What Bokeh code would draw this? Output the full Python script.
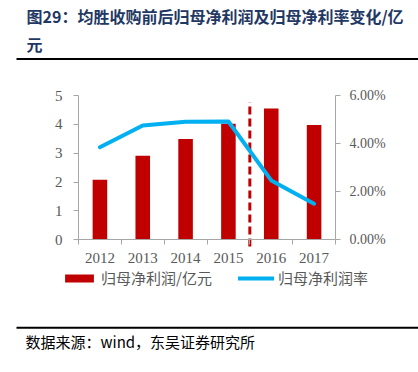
from bokeh.plotting import figure
from bokeh.models import (Range1d, LinearAxis, FixedTicker, NumeralTickFormatter,
                          Label, BoxAnnotation, Legend, LegendItem, ColumnDataSource)
from bokeh.embed import file_html
from bokeh.resources import INLINE

# ---- data ----
years = ["2012", "2013", "2014", "2015", "2016", "2017"]
net_profit = [2.08, 2.91, 3.49, 4.02, 4.55, 3.98]          # 亿元
net_margin = [0.0385, 0.0475, 0.0491, 0.0492, 0.0247, 0.0150]
left_ticks = [0, 1, 2, 3, 4, 5]
right_ticks = [0.0, 0.02, 0.04, 0.06]
title_line1 = "图29：均胜收购前后归母净利润及归母净利率变化/亿"
title_line2 = "元"
source_text = "数据来源：wind，东吴证券研究所"
legend_bar = "归母净利润/亿元"
legend_line = "归母净利润率"

idx = list(range(len(years)))
src = ColumnDataSource(dict(x=idx, profit=net_profit, margin=net_margin))

BAR = "#C00000"
BLUE = "#00B0F0"
AXIS = "#A6A6A6"
TXT = "#595959"
TITLE_C = "#1F3864"
SERIF = "Liberation Serif"
CJK = "Noto Sans CJK SC"

# ---- page layout (pixels) ----
W, H = 418, 372
PL, PR = 78, 335          # plot area left / right
PT, PB = 95, 239.3        # value 5 / value 0
LMAX = 5.0
RMAX = 0.06
n = len(years)
ux = (PR - PL) / n        # px per category
uy = (PB - PT) / LMAX     # px per left unit
x_lo = -0.5 - PL / ux
x_hi = n - 0.5 + (W - PR) / ux
y_hi = LMAX + PT / uy
y_lo = -(H - PB) / uy

p = figure(width=W, height=H, min_border=0,
           x_range=Range1d(x_lo, x_hi), y_range=Range1d(y_lo, y_hi),
           output_backend="svg", toolbar_location=None, tools="", title=None)
p.outline_line_color = None
p.grid.visible = False
p.extra_y_ranges = {"pct": Range1d(y_lo * RMAX / LMAX, y_hi * RMAX / LMAX),
                    "py": Range1d(H, 0)}
p.extra_x_ranges = {"px": Range1d(0, W)}

bars = p.vbar(x="x", top="profit", width=0.34, source=src, fill_color=BAR, line_color=None)

# dashed divider between 2015 and 2016
div_x = (idx[3] + idx[4]) / 2
p.segment(x0=[div_x], y0=[-0.23], x1=[div_x], y1=[4.77],
          line_color=BAR, line_width=3, line_dash="8 4")

ln = p.line(x="x", y="margin", source=src, y_range_name="pct",
            line_color=BLUE, line_width=4, line_join="round", line_cap="round")

# x axis at value 0
xa = p.xaxis[0]
xa.fixed_location = 0
xa.bounds = (-0.5, n - 0.5)
xa.ticker = FixedTicker(ticks=idx, minor_ticks=[i - 0.5 for i in idx] + [n - 0.5])
xa.major_label_overrides = {i: y for i, y in zip(idx, years)}
xa.axis_line_color = AXIS
xa.major_tick_line_color = None
xa.minor_tick_line_color = AXIS
xa.minor_tick_in = 0
xa.minor_tick_out = 5
xa.major_tick_out = 0
xa.major_tick_in = 0
xa.major_label_standoff = 8
xa.major_label_text_font = SERIF
xa.major_label_text_font_size = "15px"
xa.major_label_text_color = TXT

ya = p.yaxis[0]
ya.fixed_location = -0.5
ya.ticker = FixedTicker(ticks=left_ticks)
ya.bounds = (0, LMAX)
ya.axis_line_color = AXIS
ya.major_tick_line_color = AXIS
ya.minor_tick_line_color = None
ya.major_tick_in = 0
ya.major_tick_out = 5
ya.major_label_standoff = 11
ya.major_label_text_font = SERIF
ya.major_label_text_font_size = "15px"
ya.major_label_text_color = TXT

ra = LinearAxis(y_range_name="pct", ticker=FixedTicker(ticks=right_ticks),
                formatter=NumeralTickFormatter(format="0.00%"), bounds=(0, RMAX),
                fixed_location=n - 0.5)
ra.axis_line_color = AXIS
ra.major_tick_line_color = AXIS
ra.minor_tick_line_color = None
ra.major_tick_in = 0
ra.major_tick_out = 5
ra.major_label_standoff = 9
ra.major_label_text_font = SERIF
ra.major_label_text_font_size = "14px"
ra.major_label_text_color = TXT
p.add_layout(ra, "right")

legend = Legend(items=[LegendItem(label=legend_bar, renderers=[bars]),
                       LegendItem(label=legend_line, renderers=[ln])],
                orientation="horizontal", location=(61, H - 288),
                glyph_width=36, glyph_height=10, label_standoff=4, spacing=26,
                padding=0, margin=0, border_line_color=None, background_fill_alpha=0,
                label_text_font=CJK, label_text_font_size="15px", label_text_color=TXT,
                label_height=16)
p.add_layout(legend, "center")

def lab(x, y, text, size, color, bold=False):
    p.add_layout(Label(x=x, y=y, x_range_name="px", y_range_name="py", text=text,
                       text_font=CJK, text_font_size=size, text_color=color,
                       text_font_style="bold" if bold else "normal",
                       text_baseline="middle"))

def rule(y0, y1):
    p.add_layout(BoxAnnotation(left=16, right=W, top=y0, bottom=y1,
                               x_range_name="px", y_range_name="py",
                               fill_color="black", fill_alpha=1, line_color=None))

lab(26, 15, title_line1, "16px", TITLE_C, bold=True)
lab(26, 43, title_line2, "16px", TITLE_C, bold=True)
rule(57.5, 59.5)
rule(326.3, 328.3)
lab(25, 341, source_text, "15px", "black")

open("out.html", "w").write(file_html(p, INLINE))
